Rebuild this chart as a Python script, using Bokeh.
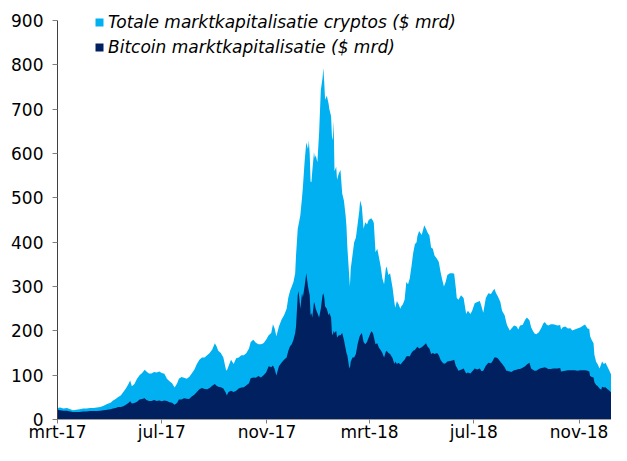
import pandas as pd
from bokeh.plotting import figure
from bokeh.models import Range1d, FixedTicker, Legend, LegendItem
from bokeh.embed import file_html
from bokeh.resources import INLINE

# ---------------- data ----------------
DATES = [
    "2017-03-01", "2017-03-04", "2017-03-08", "2017-03-12", "2017-03-16", "2017-03-19", "2017-03-23",
    "2017-03-27", "2017-03-31", "2017-04-04", "2017-04-08", "2017-04-12", "2017-04-16", "2017-04-20",
    "2017-04-24", "2017-04-28", "2017-05-02", "2017-05-05", "2017-05-08", "2017-05-11", "2017-05-14",
    "2017-05-17", "2017-05-20", "2017-05-23", "2017-05-25", "2017-05-27", "2017-05-30", "2017-06-02",
    "2017-06-05", "2017-06-08", "2017-06-11", "2017-06-13", "2017-06-16", "2017-06-19", "2017-06-22",
    "2017-06-25", "2017-06-28", "2017-07-01", "2017-07-04", "2017-07-07", "2017-07-10", "2017-07-13",
    "2017-07-16", "2017-07-19", "2017-07-21", "2017-07-24", "2017-07-27", "2017-07-30", "2017-08-02",
    "2017-08-05", "2017-08-08", "2017-08-11", "2017-08-14", "2017-08-17", "2017-08-20", "2017-08-23",
    "2017-08-26", "2017-08-29", "2017-09-01", "2017-09-03", "2017-09-05", "2017-09-08", "2017-09-11",
    "2017-09-14", "2017-09-15", "2017-09-17", "2017-09-20", "2017-09-23", "2017-09-26", "2017-09-29",
    "2017-10-02", "2017-10-05", "2017-10-08", "2017-10-11", "2017-10-13", "2017-10-16", "2017-10-19",
    "2017-10-22", "2017-10-25", "2017-10-28", "2017-10-31", "2017-11-03", "2017-11-06", "2017-11-08",
    "2017-11-10", "2017-11-12", "2017-11-15", "2017-11-18", "2017-11-21", "2017-11-24", "2017-11-26",
    "2017-11-28", "2017-11-30", "2017-12-02", "2017-12-04", "2017-12-05", "2017-12-07", "2017-12-08",
    "2017-12-10", "2017-12-12", "2017-12-13", "2017-12-15", "2017-12-17", "2017-12-19", "2017-12-20",
    "2017-12-21", "2017-12-22", "2017-12-23", "2017-12-24", "2017-12-26", "2017-12-27", "2017-12-28",
    "2017-12-30", "2018-01-01", "2018-01-03", "2018-01-05", "2018-01-06", "2018-01-07", "2018-01-08",
    "2018-01-10", "2018-01-12", "2018-01-13", "2018-01-15", "2018-01-16", "2018-01-17", "2018-01-18",
    "2018-01-19", "2018-01-21", "2018-01-22", "2018-01-24", "2018-01-26", "2018-01-28", "2018-01-30",
    "2018-02-01", "2018-02-02", "2018-02-03", "2018-02-05", "2018-02-06", "2018-02-07", "2018-02-09",
    "2018-02-11", "2018-02-13", "2018-02-15", "2018-02-17", "2018-02-18", "2018-02-20", "2018-02-22",
    "2018-02-24", "2018-02-26", "2018-02-28", "2018-03-03", "2018-03-05", "2018-03-06", "2018-03-08",
    "2018-03-10", "2018-03-12", "2018-03-14", "2018-03-16", "2018-03-18", "2018-03-20", "2018-03-21",
    "2018-03-23", "2018-03-25", "2018-03-28", "2018-03-30", "2018-03-31", "2018-04-02", "2018-04-04",
    "2018-04-06", "2018-04-07", "2018-04-09", "2018-04-11", "2018-04-13", "2018-04-15", "2018-04-17",
    "2018-04-19", "2018-04-21", "2018-04-23", "2018-04-25", "2018-04-26", "2018-04-28", "2018-05-01",
    "2018-05-04", "2018-05-06", "2018-05-08", "2018-05-10", "2018-05-12", "2018-05-14", "2018-05-16",
    "2018-05-19", "2018-05-21", "2018-05-23", "2018-05-25", "2018-05-27", "2018-05-29", "2018-05-31",
    "2018-06-03", "2018-06-06", "2018-06-08", "2018-06-10", "2018-06-11", "2018-06-13", "2018-06-16",
    "2018-06-19", "2018-06-22", "2018-06-24", "2018-06-27", "2018-06-29", "2018-07-02", "2018-07-05",
    "2018-07-08", "2018-07-10", "2018-07-12", "2018-07-15", "2018-07-18", "2018-07-21", "2018-07-23",
    "2018-07-25", "2018-07-27", "2018-07-29", "2018-08-01", "2018-08-03", "2018-08-06", "2018-08-08",
    "2018-08-09", "2018-08-12", "2018-08-14", "2018-08-17", "2018-08-20", "2018-08-22", "2018-08-24",
    "2018-08-27", "2018-08-30", "2018-09-01", "2018-09-04", "2018-09-06", "2018-09-08", "2018-09-10",
    "2018-09-12", "2018-09-15", "2018-09-18", "2018-09-20", "2018-09-22", "2018-09-24", "2018-09-26",
    "2018-09-29", "2018-10-02", "2018-10-05", "2018-10-07", "2018-10-10", "2018-10-11", "2018-10-13",
    "2018-10-16", "2018-10-19", "2018-10-22", "2018-10-24", "2018-10-27", "2018-10-30", "2018-11-03",
    "2018-11-06", "2018-11-08", "2018-11-11", "2018-11-13", "2018-11-14", "2018-11-16", "2018-11-18",
    "2018-11-19", "2018-11-21", "2018-11-23", "2018-11-25", "2018-11-27", "2018-11-28", "2018-11-30",
    "2018-12-02", "2018-12-04", "2018-12-06", "2018-12-08", "2018-12-09",
]

TOTAL = [
    26, 27, 25, 26, 23, 21, 22,
    23, 25, 25, 26, 26, 27, 28,
    31, 35, 38, 43, 46, 51, 54,
    62, 70, 80, 88, 75, 80, 92,
    100, 105, 112, 108, 104, 104, 107,
    106, 108, 105, 103, 92, 86, 82,
    72, 82, 92, 96, 94, 92, 96,
    104, 112, 125, 135, 140, 140, 145,
    150, 158, 172, 165, 155, 150, 140,
    113, 110, 120, 135, 125, 138, 140,
    145, 145, 150, 160, 175, 180, 173,
    170, 170, 172, 180, 190, 195, 215,
    205, 188, 210, 225, 235, 250, 275,
    290, 300, 310, 330, 370, 430, 440,
    460, 500, 523, 581, 625, 610, 629,
    600, 537, 535, 560, 603, 590, 596,
    580, 647, 743, 770, 793, 760, 721,
    730, 713, 700, 684, 640, 630, 673,
    560, 570, 541, 555, 563, 510, 494,
    460, 436, 390, 330, 300, 340, 370,
    400, 410, 440, 470, 494, 480, 430,
    445, 440, 450, 454, 448, 443, 377,
    385, 366, 345, 318, 305, 340, 345,
    326, 330, 296, 265, 252, 267, 260,
    250, 255, 260, 270, 310, 305, 318,
    345, 375, 395, 400, 414, 425, 416,
    438, 430, 421, 415, 388, 385, 370,
    362, 355, 333, 315, 300, 310, 326,
    330, 330, 329, 295, 274, 270, 280,
    274, 238, 245, 238, 245, 262, 265,
    267, 255, 241, 274, 285, 283, 289,
    295, 285, 278, 265, 245, 235, 218,
    212, 201, 205, 212, 210, 203, 212,
    213, 225, 230, 224, 208, 200, 194,
    192, 197, 207, 216, 220, 214, 212,
    215, 215, 213, 212, 213, 203, 208,
    210, 205, 206, 201, 203, 205, 208,
    212, 214, 205, 204, 188, 179, 172,
    146, 130, 124, 115, 125, 131, 125,
    128, 120, 112, 104, 100,
]

BTC = [
    22, 21, 20, 20, 18, 17, 17,
    17, 18, 18, 19, 19, 19, 20,
    21, 22, 23, 25, 26, 28, 28,
    30, 33, 37, 41, 36, 37, 40,
    45, 46, 48, 44, 42, 42, 44,
    42, 43, 41, 43, 42, 39, 38,
    33, 38, 45, 45, 48, 47, 46,
    52, 56, 62, 68, 71, 69, 68,
    71, 76, 80, 76, 74, 73, 70,
    60, 54, 62, 65, 62, 65, 70,
    72, 73, 77, 82, 93, 95, 94,
    98, 95, 100, 106, 120, 118, 122,
    114, 99, 120, 128, 135, 140, 155,
    165, 170, 180, 195, 210, 280, 290,
    250, 285, 275, 300, 330, 300, 290,
    280, 235, 240, 230, 265, 260, 250,
    240, 230, 250, 280, 285, 275, 255,
    250, 235, 240, 230, 195, 190, 200,
    195, 200, 185, 190, 190, 195, 180,
    160, 150, 145, 120, 115, 130, 140,
    140, 148, 170, 185, 190, 195, 175,
    170, 175, 185, 199, 195, 186, 170,
    172, 162, 157, 150, 140, 153, 155,
    150, 148, 138, 125, 131, 125, 128,
    124, 126, 131, 135, 142, 143, 142,
    150, 155, 157, 162, 164, 160, 163,
    168, 172, 164, 160, 148, 150, 148,
    150, 145, 135, 129, 126, 127, 131,
    132, 133, 135, 120, 118, 110, 112,
    115, 104, 106, 104, 108, 115, 113,
    115, 109, 110, 121, 128, 127, 132,
    140, 140, 138, 130, 126, 118, 110,
    110, 108, 107, 111, 112, 114, 114,
    117, 120, 124, 128, 115, 112, 110,
    110, 114, 116, 117, 118, 116, 114,
    114, 115, 115, 115, 116, 108, 109,
    110, 111, 111, 111, 111, 110, 111,
    111, 111, 110, 108, 98, 96, 95,
    84, 78, 75, 70, 67, 74, 72,
    73, 69, 66, 62, 60,
]

SERIES_NAMES = ["Totale marktkapitalisatie cryptos ($ mrd)", "Bitcoin marktkapitalisatie ($ mrd)"]
SERIES_COLORS = ["#00B0F0", "#002060"]

Y_TICKS = [0, 100, 200, 300, 400, 500, 600, 700, 800, 900]
Y_AXIS_MAX = 900
Y_VIEW_MAX = 936          # a little head-room above the axis so the legend fits inside the frame
X_TICK_DATES = ["2017-03-01", "2017-07-01", "2017-11-01", "2018-03-01", "2018-07-01", "2018-11-01"]
X_TICK_LABELS = ["mrt-17", "jul-17", "nov-17", "mrt-18", "jul-18", "nov-18"]
X_START, X_END = "2017-03-01", "2018-12-09"

# ---------------- figure ----------------
FONT = "DejaVu Sans"
x = pd.to_datetime(DATES)

p = figure(
    width=611, height=445,
    x_axis_type="datetime",
    x_range=Range1d(pd.Timestamp(X_START), pd.Timestamp(X_END)),
    y_range=Range1d(0, Y_VIEW_MAX),
    output_backend="svg", toolbar_location=None,
    min_border_left=57, min_border_right=0, min_border_top=4, min_border_bottom=26,
)
p.outline_line_color = None
p.xgrid.visible = False
p.ygrid.visible = False
p.background_fill_color = "white"

r_total = p.varea(x=x, y1=0, y2=TOTAL, fill_color=SERIES_COLORS[0])
r_btc = p.varea(x=x, y1=0, y2=BTC, fill_color=SERIES_COLORS[1])

# y axis
ya = p.yaxis[0]
ya.ticker = FixedTicker(ticks=Y_TICKS)
ya.bounds = (0, Y_AXIS_MAX)
ya.axis_line_color = "#404040"
ya.major_tick_line_color = "#808080"
ya.major_tick_out = 5
ya.major_tick_in = 0
ya.minor_tick_line_color = None
ya.major_label_standoff = 9
ya.major_label_text_font = FONT
ya.major_label_text_font_size = "17px"
ya.major_label_text_color = "#000000"

# x axis
tick_ms = [float(pd.Timestamp(d).value // 10**6) for d in X_TICK_DATES]
xa = p.xaxis[0]
xa.ticker = FixedTicker(ticks=tick_ms)
xa.major_label_overrides = {t: lab for t, lab in zip(tick_ms, X_TICK_LABELS)}
xa.axis_line_color = "#a0a0a0"
xa.major_tick_line_color = "#808080"
xa.major_tick_out = 4
xa.major_tick_in = 0
xa.minor_tick_line_color = None
xa.major_label_standoff = -2
xa.major_label_text_font = FONT
xa.major_label_text_font_size = "17px"
xa.major_label_text_color = "#000000"

legend = Legend(
    items=[LegendItem(label=SERIES_NAMES[0], renderers=[r_total]),
           LegendItem(label=SERIES_NAMES[1], renderers=[r_btc])],
    location=(37, 362),
    orientation="vertical",
    glyph_width=10, glyph_height=10,
    label_height=20, label_standoff=4,
    spacing=5, padding=0, margin=0,
    label_text_font=FONT, label_text_font_size="17px",
    label_text_font_style="italic", label_text_color="#000000",
    background_fill_alpha=0, border_line_alpha=0,
)
p.add_layout(legend, "center")

open("out.html", "w").write(file_html(p, INLINE))
